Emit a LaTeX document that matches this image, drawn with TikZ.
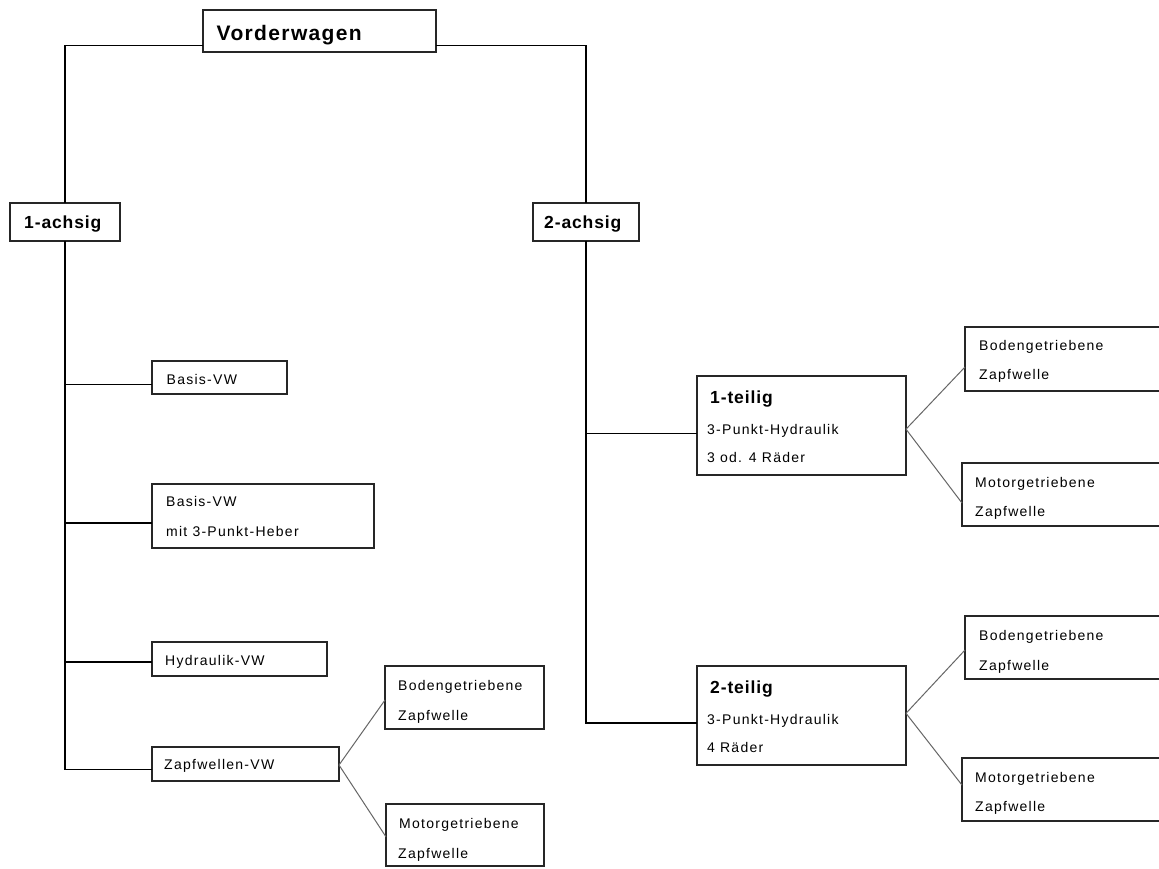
\documentclass[tikz,border=0pt]{standalone}
\usepackage{fontspec}
\setmainfont{Liberation Sans}
\newfontfamily\smfont[LetterSpace=9]{Liberation Sans}
\newfontfamily\hdfont[LetterSpace=5]{Liberation Sans}
\newfontfamily\vwfont[LetterSpace=6.5]{Liberation Sans}
\usetikzlibrary{calc}
\tikzset{
  box/.style={draw=black!85, line width=1.3pt, anchor=north west, inner sep=0pt, outer sep=0pt},
  conn/.style={draw=black, line width=1.2pt},
  diag/.style={draw=black!60, line width=1pt},
  sm/.style={anchor=base west, inner sep=0pt, font=\smfont\fontsize{14}{14}\selectfont},
  hd/.style={anchor=base west, inner sep=0pt, font=\hdfont\bfseries\fontsize{17.5}{17.5}\selectfont},
  vwt/.style={anchor=base west, inner sep=0pt, font=\vwfont\bfseries\fontsize{21}{21}\selectfont},
}
\begin{document}
\begin{tikzpicture}[x=1pt,y=-1pt]
\useasboundingbox (0,0) rectangle (1159,868);
\fill[white] (0,0) rectangle (1159,868);
\clip (0,0) rectangle (1159,868);

% boxes
\node[box, minimum width=233, minimum height=42] (vw) at (203,10) {};
\node[box, minimum width=110, minimum height=38] (a1) at (10,203) {};
\node[box, minimum width=106, minimum height=38] (a2) at (533,203) {};
\node[box, minimum width=135, minimum height=33] (bv) at (152,361) {};
\node[box, minimum width=222, minimum height=64] (bm) at (152,484) {};
\node[box, minimum width=175, minimum height=34] (hy) at (152,642) {};
\node[box, minimum width=187, minimum height=34] (zw) at (152,747) {};
\node[box, minimum width=159, minimum height=63] (lb) at (385,666) {};
\node[box, minimum width=158, minimum height=62] (lm) at (386,804) {};
\node[box, minimum width=209, minimum height=99] (t1) at (697,376) {};
\node[box, minimum width=209, minimum height=99] (t2) at (697,666) {};
\node[box, minimum width=210, minimum height=64] (rb1) at (965,327) {};
\node[box, minimum width=213, minimum height=63] (rm1) at (962,463) {};
\node[box, minimum width=210, minimum height=63] (rb2) at (965,616) {};
\node[box, minimum width=213, minimum height=63] (rm2) at (962,758) {};

% texts
\node[vwt] (tvw) at (216.5,40) {Vorderwagen};
\node[hd] (ta1) at (24,228.5) {1-achsig};
\node[hd] (ta2) at (544,228.5) {2-achsig};
\node[sm] (tbv) at (166.5,384.3) {Basis-VW};
\node[sm] (tbm1) at (166,506.7) {Basis-VW};
\node[sm] (tbm2) at (166,536.7) {mit 3-Punkt-Heber};
\node[sm] (thy) at (165,665) {Hydraulik-VW};
\node[sm] (tzw) at (164,769.5) {Zapfwellen-VW};
\node[sm] (tlb1) at (398,690) {Bodengetriebene};
\node[sm] (tlb2) at (398,720) {Zapfwelle};
\node[sm] (tlm1) at (399,828.3) {Motorgetriebene};
\node[sm] (tlm2) at (398,858) {Zapfwelle};
\node[hd] (tt11) at (710,403.3) {1-teilig};
\node[sm] (tt12) at (707,434.3) {3-Punkt-Hydraulik};
\node[sm] (tt13) at (707,462.7) {3 od. 4 Räder};
\node[hd] (tt21) at (710,693) {2-teilig};
\node[sm] (tt22) at (707,724) {3-Punkt-Hydraulik};
\node[sm] (tt23) at (707,752.5) {4 Räder};
\node[sm] (trb11) at (979,350) {Bodengetriebene};
\node[sm] (trb12) at (979,379.5) {Zapfwelle};
\node[sm] (trm11) at (975,487.3) {Motorgetriebene};
\node[sm] (trm12) at (975,516.7) {Zapfwelle};
\node[sm] (trb21) at (979,640) {Bodengetriebene};
\node[sm] (trb22) at (979,670) {Zapfwelle};
\node[sm] (trm21) at (975,782.7) {Motorgetriebene};
\node[sm] (trm22) at (975,811.7) {Zapfwelle};

% attachment points
\coordinate (vwl) at ($(vw.north west)!0.84!(vw.south west)$);
\coordinate (vwr) at ($(vw.north east)!0.84!(vw.south east)$);
\coordinate (bvp) at ($(bv.north west)!0.72!(bv.south west)$);
\coordinate (bmp) at ($(bm.north west)!0.61!(bm.south west)$);
\coordinate (hyp) at ($(hy.north west)!0.59!(hy.south west)$);
\coordinate (zwp) at ($(zw.north west)!0.65!(zw.south west)$);
\coordinate (t1p) at ($(t1.north west)!0.58!(t1.south west)$);
\coordinate (t2p) at ($(t2.north west)!0.576!(t2.south west)$);
\coordinate (zwe) at ($(zw.north east)!0.53!(zw.south east)$);
\coordinate (lbw) at ($(lb.north west)!0.54!(lb.south west)$);
\coordinate (lmw) at ($(lm.north west)!0.53!(lm.south west)$);
\coordinate (t1e) at ($(t1.north east)!0.537!(t1.south east)$);
\coordinate (rb1w) at ($(rb1.north west)!0.625!(rb1.south west)$);
\coordinate (rm1w) at ($(rm1.north west)!0.635!(rm1.south west)$);
\coordinate (t2e) at ($(t2.north east)!0.478!(t2.south east)$);
\coordinate (rb2w) at ($(rb2.north west)!0.54!(rb2.south west)$);
\coordinate (rm2w) at ($(rm2.north west)!0.43!(rm2.south west)$);

% connectors
\draw[conn] (vwl) -| (a1.north);
\draw[conn] (vwr) -| (a2.north);
\draw[conn] (a1.south) |- (zwp);
\draw[conn] (a1.south |- bvp) -- (bvp);
\draw[conn] (a1.south |- bmp) -- (bmp);
\draw[conn] (a1.south |- hyp) -- (hyp);
\draw[conn] (a2.south) |- (t2p);
\draw[conn] (a2.south |- t1p) -- (t1p);
\draw[diag] (zwe) -- (lbw);
\draw[diag] (zwe) -- (lmw);
\draw[diag] (t1e) -- (rb1w);
\draw[diag] (t1e) -- (rm1w);
\draw[diag] (t2e) -- (rb2w);
\draw[diag] (t2e) -- (rm2w);
\end{tikzpicture}
\end{document}
